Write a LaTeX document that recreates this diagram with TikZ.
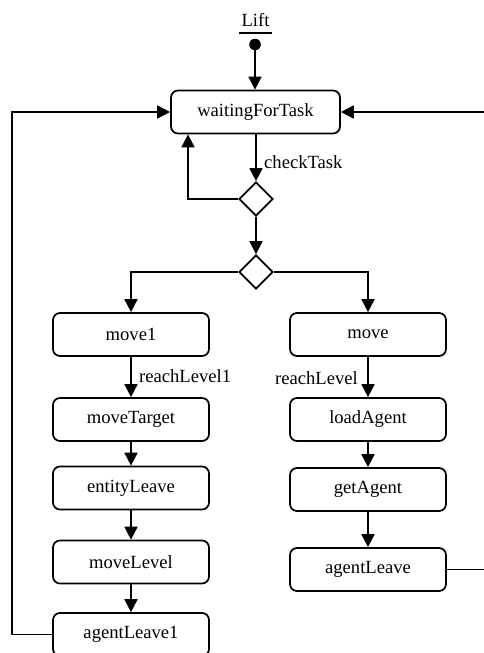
\documentclass[tikz,border=0pt]{standalone}
\usepackage{fontspec}
\setmainfont{Liberation Serif}
\usetikzlibrary{arrows.meta,shapes.geometric}
\begin{document}
\begin{tikzpicture}[x=1pt,y=-1pt,
  every node/.style={font=\fontsize{18.6}{22}\selectfont},
  line/.style={line width=1.8pt},
  arr/.style={line width=1.8pt,-{Triangle[width=13pt,length=13pt]}},
  statebox/.style={draw,line width=1.7pt,rounded corners=7pt,minimum width=156pt,minimum height=43pt,inner sep=0pt},
  choice/.style={draw,diamond,line width=1.7pt,minimum width=34pt,minimum height=34pt,inner sep=0pt},
  lbl/.style={inner sep=0pt}]
\useasboundingbox (0,0) rectangle (483,653);
% title
\node[lbl,anchor=base] (lift) at (255.5,26) {Lift};
\draw[line] (239,33) -- (272,33);
\fill (255,44.5) circle (5.8pt);
\coordinate (start) at (255,44.5);
% nodes
\node[statebox,minimum width=169pt] (wait) at (255.5,112) {waitingForTask};
\node[choice] (d1) at (256,199) {};
\node[choice] (d2) at (256,272) {};
\node[statebox] (move1) at (131,334.5) {move1};
\node[statebox] (movet) at (131,419.5) {moveTarget};
\node[statebox] (entity) at (131,488) {entityLeave};
\node[statebox] (movel) at (131,562) {moveLevel};
\node[statebox] (al1) at (131,634.5) {agentLeave1};
\node[statebox] (move) at (368,334.5) {move};
\node[statebox] (load) at (368,419.5) {loadAgent};
\node[statebox] (get) at (368,489.5) {getAgent};
\node[statebox] (al) at (368,569.5) {agentLeave};
% connectors
\draw[arr] (start) -- (start |- wait.north);
\draw[arr] (wait.south -| d1.north) -- (d1.north);
\node[lbl,anchor=west] (ck) at (264,162) {checkTask};
\draw[arr] (d1.west) -| ([xshift=-67.5pt]wait.south);
\draw[arr] (d1.south) -- (d2.north);
\draw[arr] (d2.west) -| (move1.north);
\draw[arr] (d2.east) -| (move.north);
\draw[arr] (move1.south) -- (movet.north);
\node[lbl,anchor=west] (rl1) at (139,376) {reachLevel1};
\draw[arr] (movet.south) -- (entity.north);
\draw[arr] (entity.south) -- (movel.north);
\draw[arr] (movel.south) -- (al1.north);
\draw[arr] (move.south) -- (load.north);
\node[lbl,anchor=east] (rl) at (358,378) {reachLevel};
\draw[arr] (load.south) -- (get.north);
\draw[arr] (get.south) -- (al.north);
\coordinate (lc) at (12,0);
\coordinate (rc) at (485,0);
\draw[arr] (al1.west) -- (al1.west -| lc) -- (wait.west -| lc) -- (wait.west);
\draw[arr] (al.east) -- (al.east -| rc) -- (wait.east -| rc) -- (wait.east);
\end{tikzpicture}
\end{document}
